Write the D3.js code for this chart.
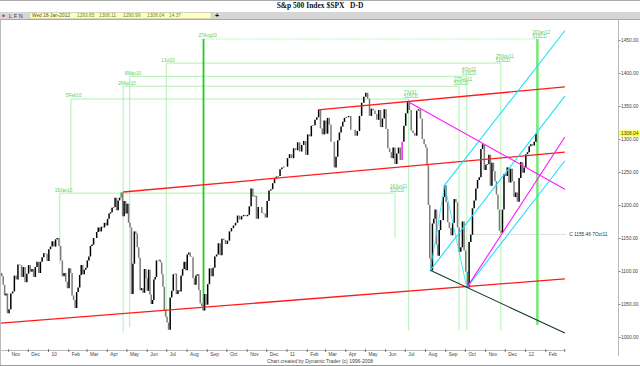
<!DOCTYPE html>
<html>
<head>
<meta charset="utf-8">
<script src="https://cdn.jsdelivr.net/npm/d3@7"></script>
<style>
  body { margin: 0; background: #fff; }
  svg { display: block; font-family: "Liberation Sans", Arial, sans-serif; }
</style>
</head>
<body>
<div id="chart"></div>
<script>
// S&P 500 daily bars with Dynamic Trader style channels and time projections

const months = ['2009-10','2009-11','2009-12','2010-01','2010-02','2010-03','2010-04','2010-05',
  '2010-06','2010-07','2010-08','2010-09','2010-10','2010-11','2010-12','2011-01','2011-02',
  '2011-03','2011-04','2011-05','2011-06','2011-07','2011-08','2011-09','2011-10','2011-11',
  '2011-12','2012-01'];

// closes, roughly every second session, one list per month
const closes = [
  [1097,1092,1079,1063,1066,1036],
  [1042,1066,1069,1093,1087,1110,1109,1091,1106,1083,1096],
  [1109,1099,1103,1091,1106,1114,1097,1114,1121,1127,1126,1115],
  [1133,1137,1145,1137,1148,1150,1138,1116,1092,1097,1084,1074],
  [1104,1097,1063,1056,1044,1068,1075,1094,1109,1095,1102,1105],
  [1116,1122,1138,1140,1150,1150,1159,1166,1160,1167,1166,1173,1169],
  [1179,1187,1189,1196,1197,1211,1192,1207,1211,1219,1183,1206,1187],
  [1202,1173,1166,1065,1111,1160,1157,1136,1120,1071,1074,1067,1103,1089],
  [1070,1102,1064,1050,1056,1087,1091,1116,1116,1117,1113,1095,1076,1041,1031],
  [1022,1011,1060,1070,1095,1096,1065,1071,1069,1093,1103,1114,1101],
  [1125,1128,1122,1121,1089,1079,1093,1095,1071,1051,1047,1040,1065,1049],
  [1080,1104,1092,1105,1122,1125,1142,1124,1149,1147,1141],
  [1146,1160,1165,1169,1173,1184,1178,1183,1185,1183],
  [1185,1198,1225,1213,1214,1179,1197,1197,1188,1187,1181],
  [1206,1222,1224,1233,1240,1243,1244,1254,1257,1258,1258],
  [1271,1277,1271,1286,1283,1295,1281,1291,1297,1276],
  [1307,1304,1320,1321,1329,1333,1344,1316,1307,1328],
  [1308,1332,1322,1296,1296,1257,1273,1298,1310,1319,1326,1332],
  [1333,1335,1314,1314,1305,1312,1335,1355,1364],
  [1370,1361,1335,1346,1343,1338,1329,1344,1318,1331,1345],
  [1315,1286,1280,1271,1287,1262,1278,1287,1268,1296,1320],
  [1339,1356,1344,1313,1309,1305,1343,1345,1331,1300,1292],
  [1287,1260,1200,1119,1101,1172,1179,1193,1140,1123,1162,1177,1177,1212,1230],
  [1204,1174,1165,1154,1173,1209,1204,1166,1129,1136,1175,1131],
  [1099,1075,1144,1155,1195,1207,1225,1238,1242,1285,1292,1253],
  [1261,1262,1276,1229,1264,1251,1236,1216,1193,1161,1158,1193,1247],
  [1244,1257,1234,1255,1236,1212,1219,1205,1241,1265,1249,1257],
  [1277,1280,1289,1292,1290,1296,1308]
];

const markedBars = [['2010-04-24', '#22bb22'], ['2011-06-26', '#ee22ee']];

const yTicks = [1000, 1050, 1100, 1150, 1200, 1250, 1300, 1350, 1400, 1450];
const lastQuote = ['Wed 18-Jan-2012', '1293.65', '1308.11', '1290.99', '1308.04', '14.37'];
const lastClose = 1308.04;

// trend channel (red)
const channelLines = [
  ['2009-10-19', 1021, '2012-03-02', 1088],
  ['2010-04-26', 1219.7, '2012-03-02', 1280],
  ['2011-02-18', 1344, '2012-03-02', 1379]
];
// pitchfork style lines
const cyanLines = [
  ['2011-08-31', 1230, '2012-03-02', 1464],
  ['2011-08-09', 1101, '2012-03-02', 1365],
  ['2011-10-04', 1074.8, '2012-03-02', 1267]
];
const forkPivots = [['2011-08-09', 1101], ['2011-08-31', 1230], ['2011-10-04', 1074.8]];
const magentaLines = [
  ['2011-07-07', 1356, '2012-03-02', 1224],
  ['2011-10-04', 1074.8, '2012-03-02', 1303]
];
const darkLine = ['2011-08-09', 1101, '2012-03-02', 1006];

// time cycle projections: origin -> target, joined at a given height
const cycleFrom = ['2010-01-19', '2010-02-05', '2010-04-26', '2010-05-06', '2010-07-01', '2010-08-27'];
const cycleFromLabel = ['19Jan10', '5Feb10', '26Apr10', '6May10', '1Jul10', '27Aug10'];
const cycleFromEnd = [1110, 1218, 1007, 1015, 1029, 1041];
const cycleTo = ['2011-06-16', '2011-07-07', '2011-09-22', '2011-10-04', '2011-11-25', '2012-01-20'];
const cycleToLabel = ['16Jun11', '7Jul11', '22Sep11', '4Oct11', '25Nov11', '20Jan12'];
const cycleToEnd = [1151, 1010, 1010, 1010, 1010, 1018];
const cycleLevel = [1218, 1360.6, 1380, 1395, 1415, 1451.5];
const cycleNote = '515CD';

const closeMark = ['2011-10-07', 1155.46, '2012-03-04', 'C 1155.46 7Oct11'];

const W = 640, H = 366;
const parse = d3.timeParse('%Y-%m-%d');
const parseMonth = d3.timeParse('%Y-%m');
const seriesStart = parse('2009-10-19');
const seriesEnd = parse('2012-01-19');

const x = d3.scaleTime().domain([parse('2010-01-01'), parse('2012-01-01')]).range([48, 525]);
const y = d3.scaleLinear().domain([1000, 1450]).range([337, 40]);

// spread each month's closes over its span
const bars = [];
months.forEach((m, mi) => {
  const m0 = parseMonth(m);
  const m1 = d3.timeMonth.offset(m0, 1);
  const a = m0 < seriesStart ? seriesStart : m0;
  const b = m1 > seriesEnd ? seriesEnd : m1;
  const vals = closes[mi];
  vals.forEach((v, j) => {
    bars.push({ date: new Date(+a + (j + 0.5) / vals.length * (b - a)), close: v });
  });
});
bars.forEach((d, i) => { d.prev = i ? bars[i - 1].close : d.close + 3; });
markedBars.forEach(([ds, c]) => {
  const t = parse(ds);
  const b = bars.reduce((p, q) => Math.abs(q.date - t) < Math.abs(p.date - t) ? q : p);
  b.color = c;
});

const svg = d3.select('#chart').append('svg').attr('width', W).attr('height', H);

// frame, title, toolbar
svg.append('rect').attr('x', 0).attr('y', 0).attr('width', W).attr('height', H).attr('fill', '#fff');
svg.append('line').attr('x1', 0).attr('x2', W).attr('y1', 0.5).attr('y2', 0.5).attr('stroke', '#aaa');
svg.append('text')
  .attr('x', 320).attr('y', 8)
  .attr('text-anchor', 'middle')
  .attr('font-family', '"Liberation Serif", "DejaVu Serif", serif')
  .attr('font-weight', 'bold')
  .attr('font-size', '7.5px')
  .attr('fill', '#111')
  .attr('xml:space', 'preserve')
  .text('S&p 500 Index $SPX   D-D');

svg.append('rect').attr('x', 0).attr('y', 12).attr('width', W).attr('height', 7.5).attr('fill', '#d6d6d6');
svg.append('line').attr('x1', 0).attr('x2', W).attr('y1', 19.5).attr('y2', 19.5).attr('stroke', '#a8a8a8');
svg.append('circle').attr('cx', 3.5).attr('cy', 15.7).attr('r', 1.2).attr('fill', '#e02020');
['L', 'F', 'N'].forEach((s, i) => {
  svg.append('text').attr('x', 9 + i * 5).attr('y', 17.6).attr('font-size', '5px').attr('fill', '#333').text(s);
});
svg.append('rect').attr('x', 30).attr('y', 12.7).attr('width', 181).attr('height', 6)
  .attr('fill', '#ffffc4').attr('stroke', '#c8c8a0').attr('stroke-width', 0.5);
const quoteX = [32, 77, 99, 123, 147, 169];
lastQuote.forEach((s, i) => {
  svg.append('text').attr('x', quoteX[i]).attr('y', 17.4)
    .attr('font-size', '4.8px').attr('fill', i === 0 ? '#555533' : '#6a8a2a').text(s);
});
svg.append('text').attr('x', 217).attr('y', 18.2).attr('text-anchor', 'middle')
  .attr('font-size', '7px').attr('font-weight', 'bold').attr('fill', '#111').text('+');

svg.append('line').attr('x1', 0.5).attr('x2', 0.5).attr('y1', 20).attr('y2', H).attr('stroke', '#bbb');
svg.append('line').attr('x1', 0).attr('x2', W).attr('y1', H - 0.5).attr('y2', H - 0.5).attr('stroke', '#999');

const plot = svg.append('g');
svg.append('clipPath').attr('id', 'clip')
  .append('rect').attr('x', 1).attr('y', 20).attr('width', 617).attr('height', 330);
const layer = plot.append('g').attr('clip-path', 'url(#clip)');

function seg(g, l, color, width) {
  g.append('line')
    .attr('x1', x(parse(l[0]))).attr('y1', y(l[1]))
    .attr('x2', x(parse(l[2]))).attr('y2', y(l[3]))
    .attr('stroke', color).attr('stroke-width', width);
}

// time projections (drawn under the price)
const lightGreen = '#a6f0a6';
const labelGreen = '#5ccc5c';
cycleFrom.forEach((ds, i) => {
  const x0 = x(parse(ds));
  const x1 = x(parse(cycleTo[i]));
  const yl = y(cycleLevel[i]);
  const bright = i === cycleFrom.length - 1;
  layer.append('line').attr('x1', x0).attr('x2', x1).attr('y1', yl).attr('y2', yl)
    .attr('stroke', lightGreen).attr('stroke-width', 0.9)
    .attr('stroke-dasharray', bright ? '1.5,1' : null);
  layer.append('line').attr('x1', x0).attr('x2', x0).attr('y1', yl).attr('y2', y(cycleFromEnd[i]))
    .attr('stroke', bright ? '#22cc22' : lightGreen).attr('stroke-width', bright ? 1.8 : 0.9);
  layer.append('line').attr('x1', x1).attr('x2', x1).attr('y1', yl).attr('y2', y(cycleToEnd[i]))
    .attr('stroke', bright ? '#7ae87a' : lightGreen).attr('stroke-width', bright ? 2.6 : 0.9);
  layer.append('text').attr('x', x0 - 5).attr('y', yl - 1.6)
    .attr('font-size', '4.6px').attr('fill', labelGreen).text(cycleFromLabel[i]);
  layer.append('text').attr('x', x1 - 5).attr('y', yl - 5.4)
    .attr('font-size', '4.6px').attr('fill', labelGreen).text(cycleToLabel[i]);
  layer.append('text').attr('x', x1 - 5).attr('y', yl - 1.4)
    .attr('font-size', '4.6px').attr('fill', labelGreen).text(cycleNote);
});

// last-close reference
layer.append('line')
  .attr('x1', x(parse(closeMark[0]))).attr('x2', x(parse(closeMark[2])))
  .attr('y1', y(closeMark[1])).attr('y2', y(closeMark[1]))
  .attr('stroke', '#b0b0b0').attr('stroke-width', 0.8).attr('stroke-dasharray', '1,1');
svg.append('text').attr('x', x(parse(closeMark[2])) + 3).attr('y', y(closeMark[1]) + 1.8)
  .attr('font-size', '4.8px').attr('fill', '#223355').text(closeMark[3]);

// price bars
layer.selectAll('.bar').data(bars.slice(1)).enter().append('line')
  .attr('class', 'bar')
  .attr('x1', d => x(d.date)).attr('x2', d => x(d.date))
  .attr('y1', d => y(d.prev)).attr('y2', d => y(d.close))
  .attr('stroke', d => d.color || (d.close >= d.prev ? '#000' : '#7a7a7a'))
  .attr('stroke-width', 1.5);

// channel and fork lines
channelLines.forEach(l => seg(layer, l, '#ff1a1a', 1.3));
cyanLines.forEach(l => seg(layer, l, '#1ee0ff', 1.1));
for (let i = 1; i < forkPivots.length; i++) {
  seg(layer, [forkPivots[i - 1][0], forkPivots[i - 1][1], forkPivots[i][0], forkPivots[i][1]], '#1ee0ff', 0.8);
}
magentaLines.forEach(l => seg(layer, l, '#ff18ff', 1.1));
seg(layer, darkLine, '#14382a', 1.1);

// y axis on the right
svg.append('line').attr('x1', 618.5).attr('x2', 618.5).attr('y1', 20).attr('y2', 356).attr('stroke', '#bbb');
const yAxis = svg.append('g').attr('transform', 'translate(618.5,0)')
  .call(d3.axisRight(y).tickValues(yTicks).tickSize(2).tickFormat(d3.format('.2f')));
yAxis.select('.domain').remove();
yAxis.selectAll('line').attr('stroke', '#888');
yAxis.selectAll('text').attr('font-size', '4.8px').attr('fill', '#444').attr('x', 2.5);

svg.append('rect').attr('x', 619).attr('y', y(lastClose) - 3.2).attr('width', 20).attr('height', 6).attr('fill', '#ffff33');
svg.append('text').attr('x', 621).attr('y', y(lastClose) + 1.6).attr('font-size', '4.8px').attr('fill', '#444')
  .text(d3.format('.2f')(lastClose));

// x axis
const monthTicks = d3.timeMonth.range(parse('2009-11-01'), parse('2012-03-02'));
const last = monthTicks[monthTicks.length - 1];
svg.append('line').attr('x1', 1).attr('x2', x(last)).attr('y1', 350.5).attr('y2', 350.5).attr('stroke', '#bbb');
const xAxis = svg.append('g').attr('transform', 'translate(0,349)')
  .call(d3.axisBottom(x).tickValues(monthTicks).tickSize(3)
    .tickFormat(d => d === last ? '' : (d.getMonth() === 0 ? d3.timeFormat('%y')(d) : d3.timeFormat('%b')(d))));
xAxis.select('.domain').remove();
xAxis.selectAll('line').attr('stroke', '#777');
xAxis.selectAll('text')
  .attr('text-anchor', 'start').attr('x', 3).attr('y', 3.2)
  .attr('font-size', '4.8px').attr('fill', '#444');

svg.append('text').attr('x', 320).attr('y', 362.5).attr('text-anchor', 'middle')
  .attr('font-size', '5px').attr('fill', '#444')
  .text('Chart created by Dynamic Trader  (c) 1996-2008');
</script>
</body>
</html>
